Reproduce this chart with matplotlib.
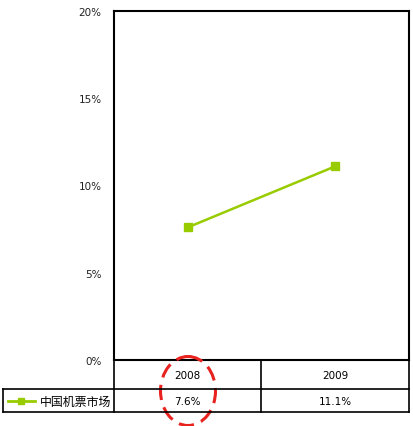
import matplotlib
matplotlib.use("Agg")
from matplotlib import pyplot as plt
from matplotlib.patches import Ellipse

plt.rcParams['font.family'] = ['DejaVu Sans', 'Noto Sans CJK SC']

# data
years = ['2008', '2009']
share = [7.6, 11.1]
series_name = '中国机票市场'
yticks = [0, 5, 10, 15, 20]

green = '#99cc00'
W, H = 414, 427

fig = plt.figure(figsize=(W / 100, H / 100), dpi=100)

# main chart box (pixel coords: x 114..409, y 12..361)
x0, x1, ytop, ybot = 114, 409, 12, 361
ax = fig.add_axes([x0 / W, 1 - ybot / H, (x1 - x0) / W, (ybot - ytop) / H])
xs = list(range(len(years)))
ax.plot(xs, share, color=green, lw=1.8, marker='s', ms=6, mec=green, mfc=green)
ax.set_xlim(-0.5, len(years) - 0.5)
ax.set_ylim(0, 20)
ax.set_yticks(yticks)
ax.set_yticklabels([f'{v}%' for v in yticks], fontsize=7.5, color='#222222')
ax.tick_params(axis='y', length=0, pad=9)
ax.set_xticks([])
for s in ax.spines.values():
    s.set_linewidth(1.5)
    s.set_color('black')

# overlay in pixel coordinates for the data table and the annotation
ov = fig.add_axes([0, 0, 1, 1])
ov.set_xlim(0, W)
ov.set_ylim(H, 0)
ov.axis('off')
ov.patch.set_alpha(0)

r1, r2, r3 = 361, 390, 413
lx = 3
col_w = (x1 - x0) / len(years)
lw = 1.2
# horizontal lines
ov.plot([lx, x1], [r2, r2], color='black', lw=lw)
ov.plot([lx, x1], [r3, r3], color='black', lw=lw)
# vertical lines
ov.plot([lx, lx], [r2, r3], color='black', lw=lw)
ov.plot([x0, x0], [r1, r3], color='black', lw=lw)
ov.plot([x1, x1], [r1, r3], color='black', lw=lw)
for i in range(1, len(years)):
    xc = x0 + i * col_w
    ov.plot([xc, xc], [r1, r3], color='black', lw=lw)

for i, (yr, v) in enumerate(zip(years, share)):
    cx = x0 + (i + 0.5) * col_w
    ov.text(cx, (r1 + r2) / 2 + 1, yr, ha='center', va='center', fontsize=7.5)
    ov.text(cx, (r2 + r3) / 2 + 1, f'{v}%', ha='center', va='center', fontsize=7.5)

# legend entry inside the table
ly = (r2 + r3) / 2
ov.plot([8, 35], [ly, ly], color=green, lw=2)
ov.plot([21], [ly], marker='s', ms=5, color=green)
ov.text(40, ly + 1, series_name, ha='left', va='center', fontsize=8.6,
        family=['Noto Sans CJK SC', 'DejaVu Sans'])

# red dashed ellipse around 2008
ov.add_patch(Ellipse((188, 392), 55, 69, fill=False, ec='#e8231f', lw=2.2,
                     ls=(0, (5, 2.5))))

fig.savefig('out.png', dpi=100)
